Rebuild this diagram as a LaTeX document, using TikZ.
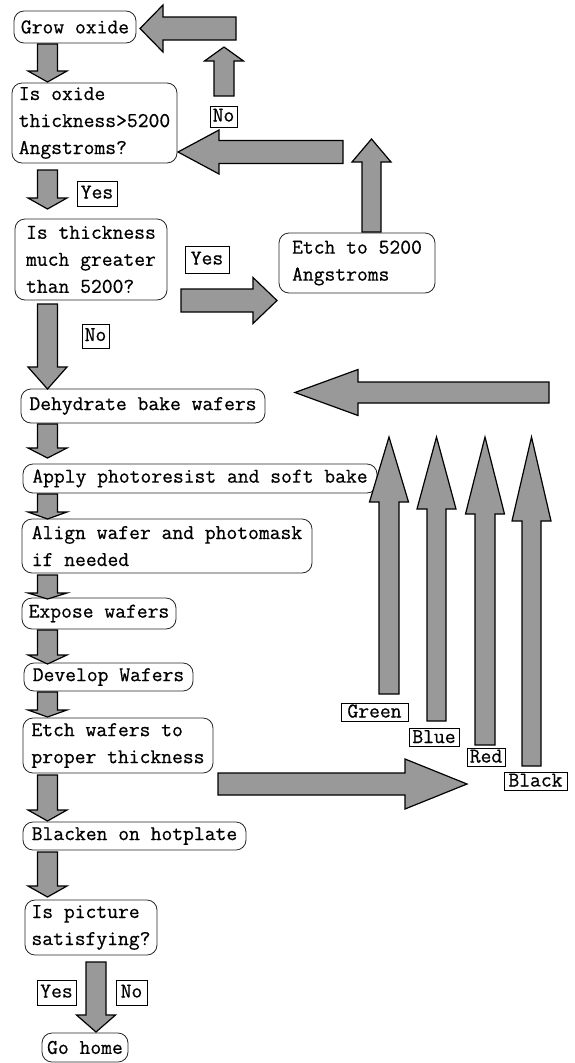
\documentclass[tikz,border=0pt]{standalone}
\usepackage{fontspec}
\newfontfamily\boxfont[FakeBold=0.6]{Latin Modern Mono}
\usetikzlibrary{calc}
\tikzset{
	procbox/.style={draw=black!85, line width=0.8pt, rounded corners=10pt, align=left,
		inner xsep=3pt, inner ysep=2pt, font=\boxfont\fontsize{21}{27}\selectfont},
	tagbox/.style={draw, line width=0.8pt, inner xsep=2pt, inner ysep=0pt, minimum height=25pt,
		text height=13pt, text depth=3pt, font=\boxfont\fontsize{21}{27}\selectfont},
	colourtag/.style={tagbox, minimum height=18pt, text height=12pt, text depth=1pt},
	fatarrow/.style={fill=black!40, draw=black, line width=1.2pt, line join=miter}
}
% #1 tail, #2 tip, #3 half shaft width, #4 half head width, #5 head length
\newcommand{\blockarrow}[5]{%
	\filldraw[fatarrow]
		($(#1)!{#3*1pt}!90:(#2)$) --
		($(#2)!{#5*1pt}!(#1)!{#3*1pt}!90:(#2)$) --
		($(#2)!{#5*1pt}!(#1)!{#4*1pt}!90:(#2)$) --
		(#2) --
		($(#2)!{#5*1pt}!(#1)!{#4*1pt}!-90:(#2)$) --
		($(#2)!{#5*1pt}!(#1)!{#3*1pt}!-90:(#2)$) --
		($(#1)!{#3*1pt}!-90:(#2)$) -- cycle;}
\begin{document}
\begin{tikzpicture}[x=1pt,y=-1pt]
	\useasboundingbox (0,0) rectangle (575,1063);
	% process boxes
	\node[procbox, minimum width=122pt, minimum height=32pt] (grow) at (75,27) {Grow oxide};
	\node[procbox, minimum width=165pt, minimum height=80pt] (oxide) at (94.5,123) {Is oxide\\thickness>5200\\Angstroms?};
	\node[procbox, minimum width=152pt, minimum height=81pt] (thick) at (91,259.5) {Is thickness\\much greater\\than 5200?};
	\node[procbox, minimum width=156pt, minimum height=60pt] (etchto) at (357,263) {Etch to 5200\\Angstroms};
	\node[procbox, minimum width=244pt, minimum height=34pt] (dehyd) at (143,406) {Dehydrate bake wafers};
	\node[procbox, minimum width=354pt, minimum height=29pt] (apply) at (200,478.5) {Apply photoresist and soft bake};
	\node[procbox, minimum width=290pt, minimum height=54pt] (align) at (167,546) {Align wafer and photomask\\if needed};
	\node[procbox, minimum width=154pt, minimum height=31pt] (expose) at (99,613.5) {Expose wafers};
	\node[procbox, minimum width=169pt, minimum height=28pt] (develop) at (108.5,677) {Develop Wafers};
	\node[procbox, minimum width=190pt, minimum height=55pt] (etchw) at (118,745.5) {Etch wafers to\\proper thickness};
	\node[procbox, minimum width=223pt, minimum height=28pt] (blacken) at (134.5,836) {Blacken on hotplate};
	\node[procbox, minimum width=132pt, minimum height=55pt] (picture) at (91,927.5) {Is picture\\satisfying?};
	\node[procbox, minimum width=86pt, minimum height=29pt] (home) at (85,1047.5) {Go home};
	% answer tags
	\node[tagbox, minimum width=27pt, minimum height=21pt] (noA) at (223.5,116.5) {No};
	\node[tagbox, minimum width=40pt] (yesA) at (97,193.5) {Yes};
	\node[tagbox, minimum width=44pt, minimum height=27pt] (yesB) at (207,259.5) {Yes};
	\node[tagbox, minimum width=27pt, minimum height=24pt] (noB) at (95.5,336) {No};
	\node[tagbox, minimum width=39pt] (yesC) at (56.5,992.5) {Yes};
	\node[tagbox, minimum width=31pt] (noC) at (131.5,992.5) {No};
	\node[colourtag, minimum width=67pt] (tagGreen) at (374.5,712) {Green};
	\node[colourtag, minimum width=50pt] (tagBlue) at (434,737.5) {Blue};
	\node[colourtag, minimum width=38pt] (tagRed) at (486,757) {Red};
	\node[colourtag, minimum width=63pt] (tagBlack) at (535.5,781) {Black};
	% main column arrows
	\foreach \n/\ys/\ye/\hl in {1/44/82/11, 2/170/209/11, 3/304/389/22, 4/424/458/10, 5/494/519/7,
			6/575/599/6, 7/630/664/9, 8/692/717/7, 9/775/821/11, 10/852/897/11} {
		\coordinate (d\n-t) at (47.5,\ys);
		\coordinate (d\n-h) at (47.5,\ye);
		\blockarrow{d\n-t}{d\n-h}{10}{19.5}{\hl}
	}
	\coordinate (homeT) at (96,962);
	\coordinate (homeH) at (96,1032);
	\blockarrow{homeT}{homeH}{10}{19.5}{17}
	% loop back to the top
	\coordinate (upT) at (224,96);
	\coordinate (upH) at (224,47);
	\blockarrow{upT}{upH}{10}{19.5}{14}
	\coordinate (topT) at (236,28.5);
	\coordinate (topH) at (140,28.5);
	\blockarrow{topT}{topH}{11.5}{23.5}{23}
	\coordinate (midT) at (343,152);
	\coordinate (midH) at (178,152);
	\blockarrow{midT}{midH}{11.5}{22}{41}
	\coordinate (etchT) at (371.5,232);
	\coordinate (etchH) at (371.5,139);
	\blockarrow{etchT}{etchH}{9.5}{19.5}{23}
	\coordinate (yesT) at (181,300.5);
	\coordinate (yesH) at (277,300.5);
	\blockarrow{yesT}{yesH}{11.5}{23}{24}
	% colour loops
	\coordinate (backT) at (549,392.5);
	\coordinate (backH) at (295,392.5);
	\blockarrow{backT}{backH}{10.5}{23}{63}
	\coordinate (outT) at (218,784);
	\coordinate (outH) at (467,784);
	\blockarrow{outT}{outH}{11}{25}{62}
	\foreach \col/\x/\ys/\hl/\sw in {Green/389/694/65/10, Blue/436.5/721/72/9.5,
			Red/485/745/77/10, Black/531.5/766/84/9.5} {
		\coordinate (c\col-t) at (\x,\ys);
		\coordinate (c\col-h) at (\x,437);
		\blockarrow{c\col-t}{c\col-h}{\sw}{19.5}{\hl}
	}
\end{tikzpicture}
\end{document}
